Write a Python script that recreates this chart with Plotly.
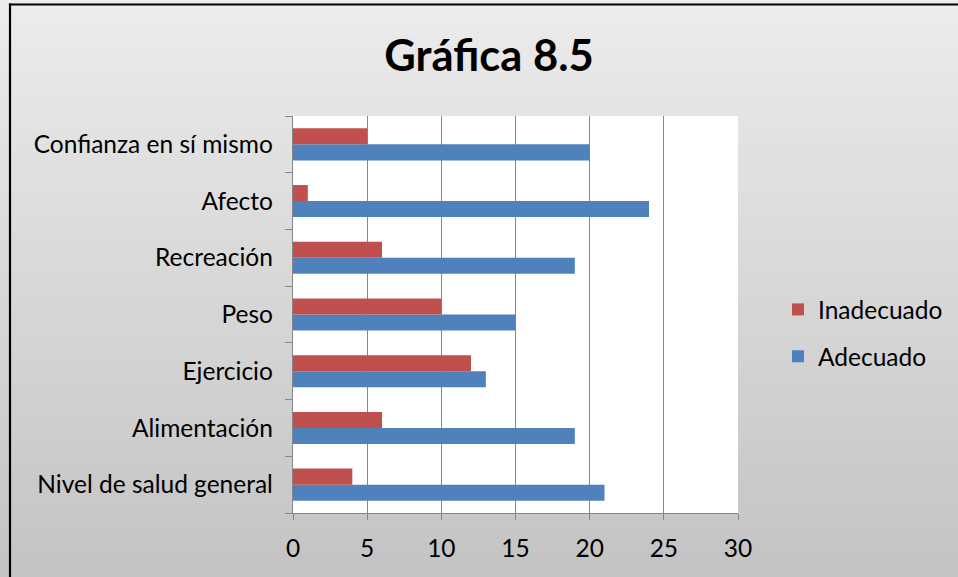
import plotly.graph_objects as go

categories = ["Nivel de salud general", "Alimentación", "Ejercicio", "Peso",
              "Recreación", "Afecto", "Confianza en sí mismo"]
adecuado = [21, 19, 13, 15, 19, 24, 20]
inadecuado = [4, 6, 12, 10, 6, 1, 5]
x_ticks = [0, 5, 10, 15, 20, 25, 30]

W, H = 958, 577
L, R, T, B = 293, 220, 116, 64
PW, PH = W - L - R, H - T - B

def px_x(p):
    return (p - L) / PW

def px_y(p):
    return (H - B - p) / PH

FONT = "Lato"
GRID = "#868686"
FS = 24.5

fig = go.Figure()
fig.add_trace(go.Bar(y=categories, x=adecuado, name="Adecuado", orientation="h",
                     marker=dict(color="#4F81BD", line=dict(width=0)),
                     legendgroup="a", legendrank=2))
fig.add_trace(go.Bar(y=categories, x=inadecuado, name="Inadecuado", orientation="h",
                     marker=dict(color="#C0504D", line=dict(width=0)),
                     legendgroup="b", legendrank=1))

shapes = []
n = 48
top_c, bot_c = 236, 195
for i in range(n):
    y0 = i * H / n
    y1 = (i + 1) * H / n + 0.6
    c = round(top_c + (bot_c - top_c) * (i + 0.5) / n)
    shapes.append(dict(type="rect", xref="paper", yref="paper",
                       x0=px_x(-5), x1=px_x(W + 5), y0=px_y(y1), y1=px_y(y0),
                       fillcolor=f"rgb({c},{c},{c})", line=dict(width=0), layer="below"))
# plot area white
shapes.append(dict(type="rect", xref="paper", yref="paper", x0=0, x1=1, y0=0, y1=1,
                   fillcolor="white", line=dict(width=0), layer="below"))
# chart border (top and left)
shapes.append(dict(type="line", xref="paper", yref="paper",
                   x0=px_x(9), x1=px_x(W + 5), y0=px_y(4.5), y1=px_y(4.5),
                   line=dict(color="black", width=2.2), layer="above"))
shapes.append(dict(type="line", xref="paper", yref="paper",
                   x0=px_x(10), x1=px_x(10), y0=px_y(3.5), y1=px_y(H + 5),
                   line=dict(color="black", width=2.2), layer="above"))

fig.update_layout(
    width=W, height=H,
    margin=dict(l=L, r=R, t=T, b=B, autoexpand=False),
    paper_bgcolor="rgb(215,215,215)",
    plot_bgcolor="white",
    barmode="group", bargap=0.435, bargroupgap=0,
    font=dict(family=FONT, size=FS, color="black"),
    title=dict(text="<b>Gráfica 8.5</b>", font=dict(family=FONT, size=43.5, color="black"),
               x=489 / W, xanchor="center", y=1 - 56 / H, yanchor="middle",
               xref="container", yref="container"),
    legend=dict(x=px_x(778), xanchor="left", y=px_y(287), yanchor="top",
                traceorder="grouped", tracegroupgap=12,
                bgcolor="rgba(0,0,0,0)", font=dict(family=FONT, size=FS)),
    shapes=shapes,
    xaxis=dict(range=[0, 30], tickvals=x_ticks, ticktext=[str(v) for v in x_ticks],
               showgrid=True, gridcolor=GRID, gridwidth=1.4,
               showline=True, linecolor=GRID, linewidth=1.4,
               ticks="outside", ticklen=6, tickcolor=GRID, tickwidth=1.4,
               ticklabelstandoff=7, zeroline=False, fixedrange=True),
    yaxis=dict(type="category", categoryorder="array", categoryarray=categories,
               showgrid=False, showline=True, linecolor=GRID, linewidth=1.4,
               ticks="outside", ticklen=7, tickcolor=GRID, tickwidth=1.4,
               tickson="boundaries", ticklabelstandoff=14, zeroline=False,
               fixedrange=True),
)

fig.write_html("out.html", config={"displayModeBar": False},
               post_script="document.body.style.margin='0';document.body.style.overflow='hidden';")
